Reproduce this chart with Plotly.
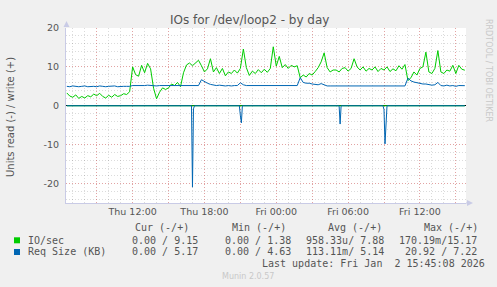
import pandas as pd
import plotly.graph_objects as go

# ---------------- data ----------------
start_time = "2026-01-01 06:30"
step = "15min"

io_write = [3.3, 2.5, 2.2, 2.8, 1.9, 2.4, 2.0, 2.6, 2.3, 3.0,
            2.6, 3.2, 2.4, 2.0, 2.7, 2.2, 2.9, 2.4, 2.6, 3.1,
            2.9, 3.6, 10.0, 8.0, 7.6, 10.4, 8.5, 10.9, 9.5, 4.5,
            1.8, 3.5, 4.6, 4.2, 4.6, 5.6, 5.2, 6.0, 4.9, 8.5,
            10.5, 11.0, 10.3, 11.0, 11.7, 10.3, 8.7, 9.5, 12.1, 8.7,
            9.8, 8.3, 9.6, 7.7, 8.7, 8.3, 9.2, 8.4, 9.6, 14.6,
            9.8, 7.8, 8.9, 8.3, 9.3, 8.5, 9.4, 8.6, 9.6, 15.17,
            10.2, 12.7, 9.8, 10.6, 9.6, 10.4, 10.0, 10.3, 7.2, 7.9,
            7.4, 8.3, 7.9, 8.8, 9.8, 11.3, 13.6, 9.8, 8.7, 9.2,
            9.2, 8.7, 9.6, 9.8, 8.9, 9.6, 12.1, 10.0, 9.2, 10.0,
            8.9, 9.6, 9.2, 10.0, 8.8, 9.6, 9.2, 10.0, 8.8, 9.5,
            9.0, 10.3, 9.4, 10.6, 6.5, 7.2, 8.7, 7.9, 9.6, 10.0,
            13.8, 8.7, 8.3, 9.6, 14.2, 8.7, 8.3, 9.2, 8.9, 10.4,
            8.3, 10.4, 9.4, 9.15]

req_write = [5.0, 4.9, 5.1, 5.0, 4.9, 5.0, 5.1, 4.9, 5.0, 5.0,
             4.9, 5.1, 5.0, 4.9, 5.0, 5.0, 5.1, 4.9, 5.0, 5.0,
             5.0, 5.0, 5.2, 5.2, 5.1, 5.2, 5.2, 5.3, 5.2, 5.2,
             5.1, 5.2, 5.2, 5.2, 5.1, 5.2, 5.2, 5.2, 5.2, 5.2,
             5.2, 5.2, 5.2, 5.2, 5.2, 6.7, 6.2, 5.8, 5.5, 5.3,
             5.2, 5.3, 5.2, 5.1, 5.2, 5.1, 5.2, 5.2, 5.9, 5.4,
             5.2, 5.2, 5.1, 5.2, 5.2, 5.1, 5.2, 5.1, 5.1, 5.2,
             5.1, 5.1, 5.1, 5.1, 5.1, 5.1, 5.1, 5.2, 7.22, 6.0,
             5.8, 5.8, 5.6, 5.5, 5.4, 5.7, 5.5, 5.1, 5.1, 5.1,
             5.1, 5.1, 5.1, 5.1, 5.1, 5.1, 5.1, 5.1, 5.1, 5.1,
             5.1, 5.1, 5.1, 5.1, 5.1, 5.1, 5.1, 5.1, 5.1, 5.1,
             5.1, 5.1, 5.1, 5.1, 7.1, 6.4, 6.1, 5.9, 5.8, 5.6,
             5.6, 5.4, 5.3, 5.4, 6.0, 5.2, 5.1, 5.3, 5.1, 5.2,
             5.0, 5.2, 5.1, 5.17]

read_times = ["2026-01-01 06:30", "2026-01-01 16:55", "2026-01-01 17:00",
              "2026-01-01 17:05", "2026-01-01 17:10", "2026-01-01 20:55",
              "2026-01-01 21:00", "2026-01-01 21:05", "2026-01-01 21:10",
              "2026-01-02 05:15", "2026-01-02 05:20", "2026-01-02 05:25",
              "2026-01-02 08:55", "2026-01-02 09:00", "2026-01-02 09:05",
              "2026-01-02 09:10", "2026-01-02 09:15", "2026-01-02 15:45"]
req_read = [0, 0, -20.92, -0.8, 0, 0, -2.5, -4.4, 0,
            0, -4.7, 0, 0, -1.0, -9.8, -3.0, 0, 0]

io_read_times = ["2026-01-01 06:30", "2026-01-02 15:45"]
io_read = [0, 0]

tick_vals = ["2026-01-01 09:00", "2026-01-01 12:00", "2026-01-01 15:00",
             "2026-01-01 18:00", "2026-01-01 21:00", "2026-01-02 00:00",
             "2026-01-02 03:00", "2026-01-02 06:00", "2026-01-02 09:00",
             "2026-01-02 12:00", "2026-01-02 15:00"]
tick_text = ["", "Thu 12:00", "", "Thu 18:00", "", "Fri 00:00",
             "", "Fri 06:00", "", "Fri 12:00", ""]
y_ticks = [-20, -10, 0, 10, 20]

legend_names = ["IO/sec", "Req Size (KB)"]
legend_headers = ["Cur (-/+)", "Min (-/+)", "Avg (-/+)", "Max (-/+)"]
legend_rows = [["0.00 / 9.15", "0.00 / 1.38", "958.33u/ 7.88", "170.19m/15.17"],
               ["0.00 / 5.17", "0.00 / 4.63", "113.11m/ 5.14", " 20.92 / 7.22"]]
last_update = "Last update: Fri Jan  2 15:45:08 2026"

GREEN = "#00CC00"
BLUE = "#0066B3"

times = pd.date_range(start_time, periods=len(io_write), freq=step)

# ---------------- figure ----------------
W, H = 497, 287
L, R, T, B = 66, 31, 28, 84
PW, PH = W - L - R, H - T - B


def px(x):
    return (x - L) / PW


def py(y):
    return (H - B - y) / PH


fig = go.Figure()
fig.add_trace(go.Scatter(x=pd.to_datetime(io_read_times), y=io_read, mode="lines",
                         line=dict(color=GREEN, width=1)))
fig.add_trace(go.Scatter(x=times, y=io_write, mode="lines",
                         line=dict(color=GREEN, width=1)))
fig.add_trace(go.Scatter(x=pd.to_datetime(read_times), y=req_read, mode="lines",
                         line=dict(color=BLUE, width=1)))
fig.add_trace(go.Scatter(x=times, y=req_write, mode="lines",
                         line=dict(color=BLUE, width=1)))

MAJ = "rgba(240,60,60,0.35)"
MIN = "rgba(0,0,0,0.14)"
AX = "#C9CBE6"
TXT = "#555555"
DASH = "1px,2px"

fig.update_xaxes(
    type="date",
    range=["2026-01-01 06:26", "2026-01-02 15:51"],
    tickmode="array", tickvals=tick_vals, ticktext=tick_text,
    showgrid=True, gridcolor=MAJ, griddash=DASH, gridwidth=1,
    minor=dict(dtick=3600000, tick0="2026-01-01 00:00", showgrid=True,
               gridcolor=MIN, griddash=DASH, gridwidth=1),
    showline=True, linecolor=AX, linewidth=1,
    zeroline=False, ticks="",
    tickfont=dict(family="DejaVu Sans", size=9.5, color=TXT),
)
fig.update_yaxes(
    range=[-25, 20],
    tickmode="array", tickvals=y_ticks, ticktext=[str(v) for v in y_ticks],
    showgrid=True, gridcolor=MAJ, griddash=DASH, gridwidth=1,
    minor=dict(dtick=2, tick0=0, showgrid=True,
               gridcolor=MIN, griddash=DASH, gridwidth=1),
    showline=True, linecolor=AX, linewidth=1,
    zeroline=True, zerolinecolor="#000000", zerolinewidth=1,
    ticks="", ticklabelstandoff=4,
    tickfont=dict(family="DejaVu Sans", size=9.5, color=TXT),
)

ann = []
ann.append(dict(text="IOs for /dev/loop2 - by day", x=px(249), y=py(20),
                xref="paper", yref="paper", xanchor="center", yanchor="middle",
                showarrow=False, font=dict(family="DejaVu Sans", size=12, color=TXT)))
ann.append(dict(text="Units read (-) / write (+)", x=px(10), y=py(117),
                xref="paper", yref="paper", xanchor="center", yanchor="middle",
                textangle=-90, showarrow=False,
                font=dict(family="DejaVu Sans", size=10, color=TXT)))
ann.append(dict(text="RRDTOOL / TOBI OETIKER", x=px(489), y=py(70),
                xref="paper", yref="paper", xanchor="center", yanchor="middle",
                textangle=90, showarrow=False,
                font=dict(family="DejaVu Sans", size=8, color="#C8C8C8")))

MONO = dict(family="DejaVu Sans Mono", size=10, color=TXT)
head_x = [133, 229.5, 325.5, 421.5]
col_x = [[130, 223, 304, 397], [130, 223, 304, 397]]
row_y = [240, 251.7]
for hx, h in zip(head_x, legend_headers):
    ann.append(dict(text=h, x=px(hx), y=py(227), xref="paper", yref="paper",
                    xanchor="left", yanchor="middle", showarrow=False, font=MONO))
for r, (name, vals) in enumerate(zip(legend_names, legend_rows)):
    ann.append(dict(text=name, x=px(25.5), y=py(row_y[r]), xref="paper", yref="paper",
                    xanchor="left", yanchor="middle", showarrow=False, font=MONO))
    for cx, v in zip(col_x[r], vals):
        ann.append(dict(text=v.replace(" ", "&nbsp;"), x=px(cx), y=py(row_y[r]),
                        xref="paper", yref="paper", xanchor="left", yanchor="middle",
                        showarrow=False, font=MONO))
ann.append(dict(text=last_update.replace(" ", "&nbsp;"), x=px(260), y=py(263.3),
                xref="paper", yref="paper", xanchor="left", yanchor="middle",
                showarrow=False, font=MONO))
ann.append(dict(text="Munin 2.0.57", x=px(248), y=py(276), xref="paper", yref="paper",
                xanchor="center", yanchor="middle", showarrow=False,
                font=dict(family="DejaVu Sans", size=8, color="#C8C8C8")))

shapes = []
for color, (y0, y1) in zip([GREEN, BLUE], [(237.3, 243.3), (249.0, 255.0)]):
    shapes.append(dict(type="rect", xref="paper", yref="paper",
                       x0=px(14), x1=px(20), y0=py(y1), y1=py(y0),
                       fillcolor=color, line=dict(width=0)))
# axis arrows
shapes.append(dict(type="path", xref="paper", yref="paper",
                   path=f"M {px(63.5)} {py(27)} L {px(66.5)} {py(21)} L {px(69.5)} {py(27)} Z",
                   fillcolor=AX, line=dict(width=0)))
shapes.append(dict(type="path", xref="paper", yref="paper",
                   path=f"M {px(467)} {py(200)} L {px(473)} {py(203)} L {px(467)} {py(206)} Z",
                   fillcolor=AX, line=dict(width=0)))
shapes.append(dict(type="line", xref="paper", yref="paper",
                   x0=px(466), x1=px(468), y0=py(203), y1=py(203),
                   line=dict(color=AX, width=1)))

fig.update_layout(
    width=W, height=H,
    margin=dict(l=L, r=R, t=T, b=B),
    paper_bgcolor="#F0F0F0", plot_bgcolor="#FFFFFF",
    showlegend=False,
    annotations=ann, shapes=shapes,
)

fig.write_html("out.html")
